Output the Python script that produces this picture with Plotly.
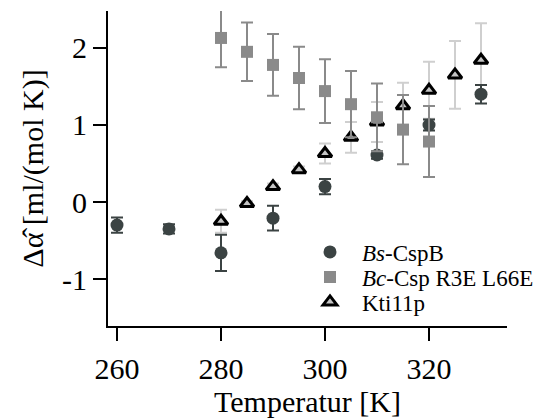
import plotly.graph_objects as go

# Bs-CspB
bs_t = [260, 270, 280, 290, 300, 310, 320, 330]
bs_y = [-0.30, -0.35, -0.66, -0.21, 0.20, 0.61, 1.00, 1.40]
bs_e = [0.10, 0.06, 0.235, 0.16, 0.10, 0.05, 0.07, 0.12]

# Bc-Csp R3E L66E
bc_t = [280, 285, 290, 295, 300, 305, 310, 315, 320]
bc_y = [2.13, 1.95, 1.78, 1.61, 1.44, 1.27, 1.10, 0.94, 0.785]
bc_e = [0.38, 0.38, 0.40, 0.405, 0.415, 0.43, 0.44, 0.45, 0.46]

# Kti11p
kt_t = [280, 285, 290, 295, 300, 305, 310, 315, 320, 325, 330]
kt_y = [-0.25, -0.02, 0.20, 0.42, 0.63, 0.84, 1.04, 1.25, 1.45, 1.65, 1.84]
kt_e = [0.15, 0.03, 0.04, 0.04, 0.13, 0.20, 0.26, 0.30, 0.37, 0.44, 0.48]

x_ticks = [260, 280, 300, 320]
y_ticks = [-1, 0, 1, 2]

FONT = "Liberation Serif, Times New Roman, serif"
C_BS = "#3b4343"
C_BC = "#8a8a8a"
C_KT_ERR = "#cfcfcf"
C_KT_FILL = "#c4c4c4"

fig = go.Figure()

fig.add_trace(go.Scatter(
    x=kt_t, y=kt_y, mode="markers", name="Kti11p", cliponaxis=False,
    error_y=dict(type="data", array=kt_e, color=C_KT_ERR, thickness=2, width=6),
    marker=dict(symbol="triangle-up", size=12, color=C_KT_FILL,
                line=dict(color="black", width=3)),
    legend="legend3",
))
fig.add_trace(go.Scatter(
    x=bs_t, y=bs_y, mode="markers", name="<i>Bs</i>-CspB", cliponaxis=False,
    error_y=dict(type="data", array=bs_e, color=C_BS, thickness=2, width=6),
    marker=dict(symbol="circle", size=13, color=C_BS),
    legend="legend",
))
fig.add_trace(go.Scatter(
    x=bc_t, y=bc_y, mode="markers", name="<i>Bc</i>-Csp R3E L66E", cliponaxis=False,
    error_y=dict(type="data", array=bc_e, color=C_BC, thickness=2, width=6),
    marker=dict(symbol="square", size=12, color=C_BC),
    legend="legend2",
))

W, H = 538, 419
leg_common = dict(xanchor="left", yanchor="middle", bgcolor="rgba(0,0,0,0)",
                  xref="container", yref="container", itemwidth=54,
                  font=dict(family=FONT, size=23, color="black"))
lx = 298 / W

def py(px):
    return (H - px) / H

fig.update_layout(
    width=W, height=H,
    margin=dict(l=108, r=31, t=11, b=93, autoexpand=False),
    paper_bgcolor="white", plot_bgcolor="white",
    font=dict(family=FONT, size=30, color="black"),
    showlegend=True,
    legend=dict(x=lx, y=py(252), **leg_common),
    legend2=dict(x=lx, y=py(277), **leg_common),
    legend3=dict(x=lx, y=py(302), **leg_common),
    xaxis=dict(
        range=[258.27, 335], tickvals=x_ticks, ticktext=[str(v) for v in x_ticks],
        showline=True, linecolor="black", linewidth=2,
        ticks="outside", ticklen=13, tickwidth=2, tickcolor="black",
        showgrid=False, zeroline=False, ticklabelstandoff=2,
        tickfont=dict(family=FONT, size=30),
        title=dict(text="Temperatur [K]", font=dict(family=FONT, size=30), standoff=0),
    ),
    yaxis=dict(
        range=[-1.61, 2.48], tickvals=y_ticks, ticktext=[str(v) for v in y_ticks],
        showline=True, linecolor="black", linewidth=2,
        ticks="outside", ticklen=13, tickwidth=2, tickcolor="black",
        showgrid=False, zeroline=False,
        tickfont=dict(family=FONT, size=30),
        title=dict(text="Δα\u0302 [ml/(mol K)]", font=dict(family=FONT, size=30), standoff=10),
    ),
)

fig.write_html("out.html")
